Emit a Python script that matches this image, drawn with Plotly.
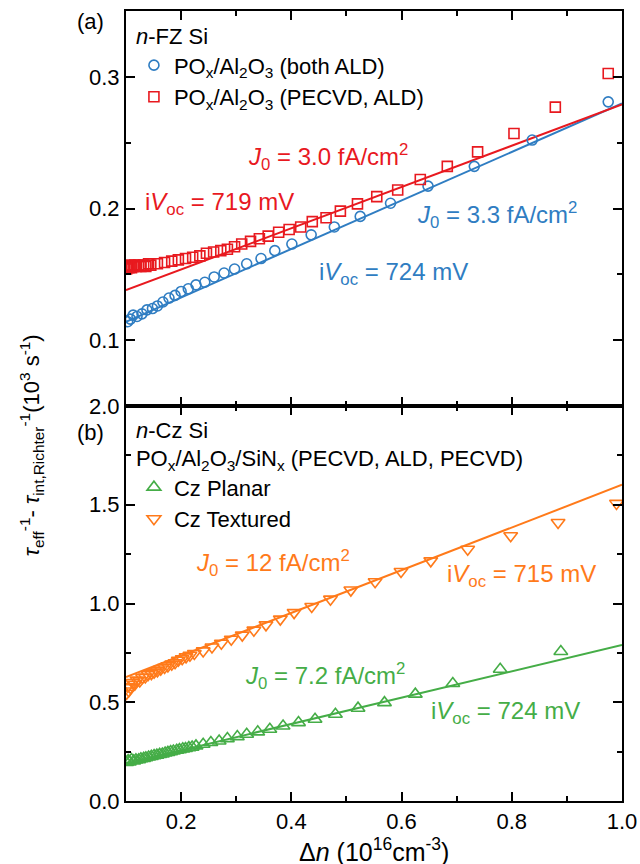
import plotly.graph_objects as go

# ---------------- data ----------------
# (a) n-FZ Si, POx/Al2O3 (both ALD)
fz_ald_x = [0.103, 0.108, 0.113, 0.120, 0.129, 0.138, 0.148, 0.157, 0.167, 0.178, 0.189,
            0.200, 0.213, 0.227, 0.243, 0.260, 0.278, 0.297, 0.319, 0.345, 0.370, 0.401,
            0.436, 0.478, 0.525, 0.580, 0.648, 0.732, 0.837, 0.975]
fz_ald_y = [0.114, 0.116, 0.119, 0.118, 0.120, 0.123, 0.124, 0.126, 0.129, 0.132, 0.134,
            0.137, 0.139, 0.142, 0.144, 0.148, 0.151, 0.154, 0.158, 0.162, 0.168, 0.173,
            0.180, 0.186, 0.194, 0.204, 0.217, 0.232, 0.252, 0.281]
# (a) n-FZ Si, POx/Al2O3 (PECVD, ALD)
fz_pecvd_x = [0.101, 0.103, 0.105, 0.107, 0.110, 0.113, 0.116, 0.119, 0.123, 0.127, 0.132,
              0.136, 0.141, 0.145, 0.157, 0.170, 0.183, 0.195, 0.208, 0.221, 0.234, 0.246,
              0.259, 0.272, 0.284, 0.297, 0.310, 0.326, 0.342, 0.358, 0.377, 0.396, 0.417,
              0.438, 0.463, 0.489, 0.520, 0.555, 0.593, 0.634, 0.683, 0.738, 0.804, 0.879,
              0.975]
fz_pecvd_y = [0.154, 0.156, 0.155, 0.157, 0.155, 0.156, 0.157, 0.156, 0.157, 0.156, 0.157,
              0.156, 0.158, 0.157, 0.158, 0.159, 0.160, 0.161, 0.162, 0.163, 0.164, 0.166,
              0.167, 0.168, 0.169, 0.171, 0.173, 0.175, 0.177, 0.179, 0.182, 0.184, 0.186,
              0.190, 0.193, 0.198, 0.2035, 0.209, 0.214, 0.222, 0.232, 0.243, 0.257, 0.277,
              0.3025]
# (b) n-Cz Si, planar
cz_planar_x = [0.101, 0.104, 0.106, 0.110, 0.114, 0.118, 0.123, 0.127, 0.132, 0.136, 0.141,
               0.146, 0.151, 0.156, 0.161, 0.166, 0.171, 0.176, 0.181, 0.186, 0.192, 0.197,
               0.203, 0.208, 0.214, 0.220, 0.227, 0.240, 0.254, 0.269, 0.284, 0.302, 0.319,
               0.339, 0.361, 0.385, 0.413, 0.443, 0.480, 0.521, 0.569, 0.625, 0.693, 0.779,
               0.889]
cz_planar_y = [0.195, 0.205, 0.198, 0.210, 0.203, 0.208, 0.209, 0.214, 0.216, 0.219, 0.223,
               0.226, 0.230, 0.232, 0.236, 0.238, 0.243, 0.246, 0.250, 0.253, 0.257, 0.260,
               0.264, 0.266, 0.270, 0.273, 0.279, 0.287, 0.296, 0.304, 0.316, 0.326, 0.338,
               0.350, 0.363, 0.380, 0.397, 0.414, 0.439, 0.470, 0.498, 0.541, 0.595, 0.667,
               0.757]
# (b) n-Cz Si, textured
cz_text_x = [0.101, 0.103, 0.105, 0.108, 0.112, 0.116, 0.120, 0.125, 0.130, 0.135, 0.140,
             0.146, 0.151, 0.157, 0.163, 0.170, 0.176, 0.183, 0.189, 0.195, 0.202, 0.209,
             0.216, 0.224, 0.240, 0.256, 0.273, 0.291, 0.311, 0.332, 0.354, 0.380, 0.405,
             0.437, 0.471, 0.508, 0.552, 0.599, 0.653, 0.720, 0.798, 0.884, 0.990]
cz_text_y = [0.545, 0.580, 0.557, 0.574, 0.600, 0.591, 0.612, 0.608, 0.625, 0.628, 0.640,
             0.645, 0.652, 0.659, 0.668, 0.676, 0.684, 0.693, 0.700, 0.713, 0.720, 0.730,
             0.738, 0.747, 0.760, 0.780, 0.799, 0.819, 0.840, 0.865, 0.892, 0.921, 0.954,
             0.985, 1.022, 1.068, 1.110, 1.162, 1.216, 1.275, 1.343, 1.410, 1.507]

# linear J0 fits (end points at the x-range limits)
fit_x = [0.1, 1.0]
fit_fz_ald = [0.114, 0.2798]
fit_fz_pecvd = [0.138, 0.279]
fit_cz_planar = [0.190, 0.790]
fit_cz_text = [0.628, 1.601]

x_ticks = [0.2, 0.4, 0.6, 0.8, 1.0]
y_ticks_a = [0.1, 0.2, 0.3]
y_ticks_b = [0.0, 0.5, 1.0, 1.5, 2.0]

# ---------------- style ----------------
BLUE = "#2f7dc2"
RED = "#e8191f"
GREEN = "#45ad47"
ORANGE = "#ff7a1a"
FONT = "Liberation Sans, Arial, sans-serif"

fig = go.Figure()

def add_pts(x, y, name, sym, color, size, xa, ya, legend):
    fig.add_trace(go.Scatter(
        x=x, y=y, mode="markers", name=name, xaxis=xa, yaxis=ya, legend=legend,
        marker=dict(symbol=sym, size=size, color=color, line=dict(width=1.6, color=color))))

def add_fit(y, color, xa, ya):
    fig.add_trace(go.Scatter(
        x=fit_x, y=y, mode="lines", showlegend=False, xaxis=xa, yaxis=ya,
        line=dict(color=color, width=2), hoverinfo="skip"))

add_fit(fit_fz_ald, BLUE, "x", "y")
add_fit(fit_fz_pecvd, RED, "x", "y")
add_pts(fz_ald_x, fz_ald_y, "PO<sub>x</sub>/Al<sub>2</sub>O<sub>3</sub> (both ALD)",
        "circle-open", BLUE, 10, "x", "y", "legend")
add_pts(fz_pecvd_x, fz_pecvd_y, "PO<sub>x</sub>/Al<sub>2</sub>O<sub>3</sub> (PECVD, ALD)",
        "square-open", RED, 10, "x", "y", "legend")

add_fit(fit_cz_planar, GREEN, "x2", "y2")
add_fit(fit_cz_text, ORANGE, "x2", "y2")
add_pts(cz_planar_x, cz_planar_y, "Cz Planar", "triangle-up-open", GREEN, 12, "x2", "y2", "legend2")
add_pts(cz_text_x, cz_text_y, "Cz Textured", "triangle-down-open", ORANGE, 12, "x2", "y2", "legend2")

axis_common = dict(showline=True, linecolor="black", linewidth=2, mirror="allticks",
                   ticks="inside", ticklen=9, tickwidth=2, tickcolor="black",
                   showgrid=False, zeroline=False,
                   tickfont=dict(family=FONT, size=22, color="black"))

fig.update_layout(
    width=640, height=864,
    margin=dict(l=126, r=18, t=11, b=63, autoexpand=False),
    plot_bgcolor="white", paper_bgcolor="white",
    font=dict(family=FONT, size=22, color="black"),
    xaxis=dict(domain=[0, 1], anchor="y", range=[0.1, 1.0], tickvals=x_ticks,
               showticklabels=False,
               minor=dict(ticks="inside", ticklen=5, tickwidth=2, dtick=0.1, tick0=0.1, tickcolor="black"),
               **axis_common),
    yaxis=dict(domain=[0.5, 1], anchor="x", range=[0.05, 0.35], tickvals=y_ticks_a,
               tickformat=".1f",
               minor=dict(ticks="inside", ticklen=5, tickwidth=2, dtick=0.05, tick0=0.05, tickcolor="black"),
               **axis_common),
    xaxis2=dict(domain=[0, 1], anchor="y2", range=[0.1, 1.0], tickvals=x_ticks,
                tickformat=".1f",
                minor=dict(ticks="inside", ticklen=5, tickwidth=2, dtick=0.1, tick0=0.1, tickcolor="black"),
                **axis_common),
    yaxis2=dict(domain=[0, 0.5], anchor="x2", range=[0.0, 2.0], tickvals=y_ticks_b,
                tickformat=".1f",
                minor=dict(ticks="inside", ticklen=5, tickwidth=2, dtick=0.25, tick0=0, tickcolor="black"),
                **axis_common),
    legend=dict(x=0.016, y=0.994, xanchor="left", yanchor="top", bgcolor="rgba(0,0,0,0)",
                font=dict(family=FONT, size=22), tracegroupgap=0,
                title=dict(text="<i>n</i>-FZ Si", font=dict(family=FONT, size=22))),
    legend2=dict(x=0.016, y=0.496, xanchor="left", yanchor="top", bgcolor="rgba(0,0,0,0)",
                 font=dict(family=FONT, size=22), tracegroupgap=0,
                 title=dict(text="<i>n</i>-Cz Si<br>PO<sub>x</sub>/Al<sub>2</sub>O<sub>3</sub>/SiN<sub>x</sub> (PECVD, ALD, PECVD)",
                            font=dict(family=FONT, size=22))),
)

def note(text, x, y, color, xref="x", yref="y", size=24, xanchor="left", angle=0):
    fig.add_annotation(text=text, x=x, y=y, xref=xref, yref=yref, showarrow=False,
                       xanchor=xanchor, yanchor="middle", textangle=angle,
                       font=dict(family=FONT, size=size, color=color))

# panel (a)
note("<i>J</i><sub>0</sub> = 3.0 fA/cm<sup>2</sup>", 0.318, 0.239, RED)
note("i<i>V</i><sub>oc</sub> = 719 mV", 0.130, 0.204, RED)
note("<i>J</i><sub>0</sub> = 3.3 fA/cm<sup>2</sup>", 0.625, 0.195, BLUE)
note("i<i>V</i><sub>oc</sub> = 724 mV", 0.447, 0.151, BLUE)
# panel (b)
note("<i>J</i><sub>0</sub> = 12 fA/cm<sup>2</sup>", 0.2235, 1.204, ORANGE, "x2", "y2")
note("i<i>V</i><sub>oc</sub> = 715 mV", 0.679, 1.143, ORANGE, "x2", "y2")
note("<i>J</i><sub>0</sub> = 7.2 fA/cm<sup>2</sup>", 0.312, 0.631, GREEN, "x2", "y2")
note("i<i>V</i><sub>oc</sub> = 724 mV", 0.650, 0.449, GREEN, "x2", "y2")

# panel labels
note("(a)", -0.0706, 0.987, "black", "paper", "paper", 22, "center")
note("(b)", -0.0706, 0.467, "black", "paper", "paper", 22, "center")

# axis titles
note("Δ<i>n</i> (10<sup>16</sup>cm<sup>-3</sup>)", 0.5, -0.0624, "black", "paper", "paper", 25, "center")
note("<i>τ</i><sub>eff</sub><sup>-1</sup>- <i>τ</i><sub>int,Richter</sub><sup>-1</sup>(10<sup>3</sup> s<sup>-1</sup>)",
     -0.19, 0.45, "black", "paper", "paper", 22, "center", -90)

fig.write_html("out.html", config={"displayModeBar": False},
               post_script="document.body.style.margin='0';document.body.style.overflow='hidden';")
